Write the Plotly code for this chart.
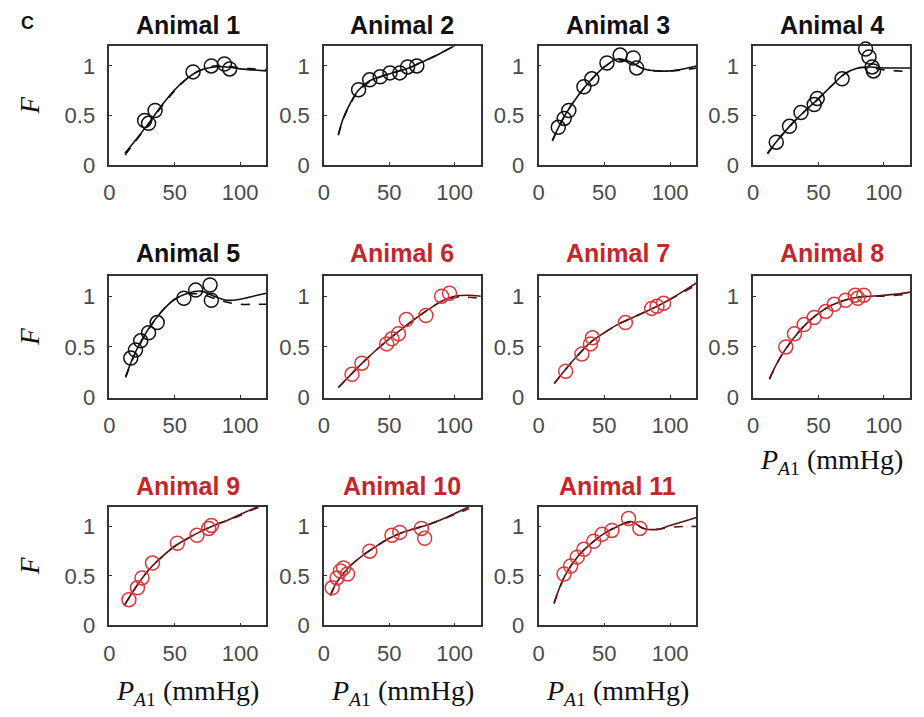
import plotly.graph_objects as go

W, H = 924, 717

animal_names = ["Animal 1", "Animal 2", "Animal 3", "Animal 4", "Animal 5", "Animal 6",
                "Animal 7", "Animal 8", "Animal 9", "Animal 10", "Animal 11"]
group = ["k", "k", "k", "k", "k", "r", "r", "r", "r", "r", "r"]

# measured points (P_A1, F)
pts_x = [
    [27, 30, 35, 64, 78, 88, 92],
    [26.5, 35, 43, 50.5, 58, 64, 71],
    [15, 19.5, 23, 34.5, 40.5, 52, 62, 72, 74.5],
    [17.7, 27.8, 36.6, 46.7, 49, 68, 86, 88.6, 91, 92],
    [16.4, 20, 24, 30, 36.6, 57, 66, 77, 78],
    [21.5, 29, 48, 52, 57, 63, 78, 90, 96],
    [20.6, 33, 39.5, 41, 66, 86, 90, 95],
    [25, 31.6, 39, 46.7, 55.5, 62, 70.7, 78, 84.6, 80],
    [15, 21.5, 25, 33, 52, 67, 76, 78],
    [6.3, 10, 12.6, 15, 18, 35, 52, 58, 74.5, 77],
    [19.4, 24.4, 29.4, 34.5, 42, 48.3, 55.8, 68.4, 77],
]
pts_y = [
    [0.45, 0.42, 0.55, 0.94, 1.0, 1.02, 0.97],
    [0.76, 0.86, 0.89, 0.93, 0.93, 0.99, 1.0],
    [0.38, 0.47, 0.55, 0.79, 0.87, 1.03, 1.11, 1.08, 0.98],
    [0.23, 0.39, 0.53, 0.61, 0.67, 0.87, 1.17, 1.09, 0.99, 0.95],
    [0.39, 0.47, 0.56, 0.64, 0.74, 0.98, 1.06, 1.11, 0.96],
    [0.23, 0.34, 0.53, 0.58, 0.63, 0.77, 0.81, 1.0, 1.03],
    [0.26, 0.43, 0.53, 0.59, 0.74, 0.88, 0.9, 0.93],
    [0.5, 0.63, 0.72, 0.79, 0.85, 0.92, 0.96, 1.01, 1.01, 0.98],
    [0.26, 0.38, 0.48, 0.63, 0.83, 0.91, 0.98, 1.01],
    [0.38, 0.48, 0.55, 0.58, 0.52, 0.75, 0.91, 0.94, 0.98, 0.88],
    [0.52, 0.6, 0.69, 0.77, 0.85, 0.92, 0.96, 1.08, 0.98],
]

# fitted curves (solid)
fit_x = [
    [12, 20, 30, 40, 50, 60, 70, 80, 90, 100, 110, 120],
    [11, 15, 20, 26, 35, 45, 55, 65, 75, 85, 95, 105],
    [10.5, 20, 30, 40, 50, 60, 70, 80, 90, 100, 110, 120],
    [11, 20, 30, 40, 50, 60, 70, 80, 90, 100, 110, 120],
    [12.5, 20, 30, 40, 50, 60, 70, 80, 90, 100, 110, 120],
    [11, 20, 30, 40, 50, 60, 70, 80, 90, 100, 110, 120],
    [12, 20, 30, 40, 50, 60, 70, 80, 90, 100, 110, 120],
    [12.5, 20, 30, 40, 50, 60, 70, 80, 90, 100, 110, 120],
    [11.4, 20, 30, 40, 50, 60, 70, 80, 90, 100, 110, 120],
    [5, 10, 20, 30, 40, 50, 60, 70, 80, 90, 100, 111],
    [11.8, 20, 30, 40, 50, 60, 70, 80, 90, 100, 110, 120],
]
fit_y = [
    [0.12, 0.25, 0.42, 0.6, 0.76, 0.88, 0.96, 0.99, 0.99, 0.97, 0.96, 0.95],
    [0.31, 0.48, 0.62, 0.75, 0.85, 0.9, 0.94, 0.98, 1.04, 1.1, 1.17, 1.24],
    [0.25, 0.5, 0.7, 0.86, 0.99, 1.07, 1.04, 0.97, 0.95, 0.95, 0.97, 1.0],
    [0.12, 0.27, 0.42, 0.55, 0.67, 0.8, 0.92, 0.98, 0.99, 0.98, 0.98, 0.98],
    [0.21, 0.45, 0.68, 0.85, 0.97, 1.03, 1.05, 1.0, 0.96, 0.97, 1.0, 1.03],
    [0.1, 0.22, 0.35, 0.47, 0.58, 0.68, 0.78, 0.87, 0.95, 1.0, 1.01, 1.0],
    [0.14, 0.27, 0.42, 0.55, 0.64, 0.72, 0.78, 0.84, 0.9, 0.97, 1.05, 1.13],
    [0.19, 0.38, 0.57, 0.72, 0.83, 0.91, 0.96, 0.99, 1.0, 1.01, 1.02, 1.04],
    [0.2, 0.38, 0.56, 0.69, 0.8, 0.88, 0.95, 1.01, 1.06, 1.12, 1.18, 1.24],
    [0.31, 0.44, 0.6, 0.71, 0.8, 0.88, 0.94, 0.98, 1.02, 1.07, 1.13, 1.2],
    [0.23, 0.5, 0.7, 0.83, 0.93, 1.0, 1.05, 0.98, 0.97, 1.01, 1.05, 1.09],
]
# second (dashed) model curves
dash_y = [
    [0.1, 0.24, 0.41, 0.59, 0.75, 0.88, 0.96, 1.0, 1.0, 0.98, 0.97, 0.96],
    [0.3, 0.47, 0.61, 0.74, 0.84, 0.9, 0.94, 0.98, 1.04, 1.1, 1.17, 1.24],
    [0.24, 0.5, 0.7, 0.86, 0.99, 1.06, 1.03, 0.97, 0.95, 0.95, 0.96, 0.98],
    [0.11, 0.27, 0.42, 0.55, 0.67, 0.8, 0.92, 0.98, 0.98, 0.96, 0.95, 0.94],
    [0.2, 0.44, 0.67, 0.85, 0.97, 1.02, 1.02, 0.98, 0.94, 0.92, 0.92, 0.92],
    [0.1, 0.22, 0.35, 0.47, 0.58, 0.68, 0.78, 0.87, 0.95, 0.99, 0.99, 0.98],
    [0.14, 0.27, 0.42, 0.55, 0.64, 0.72, 0.78, 0.84, 0.9, 0.97, 1.04, 1.11],
    [0.18, 0.38, 0.57, 0.72, 0.83, 0.91, 0.96, 0.99, 1.0, 1.0, 1.01, 1.02],
    [0.2, 0.38, 0.56, 0.69, 0.8, 0.88, 0.95, 1.01, 1.06, 1.11, 1.17, 1.22],
    [0.3, 0.44, 0.6, 0.71, 0.8, 0.88, 0.94, 0.98, 1.02, 1.07, 1.12, 1.18],
    [0.22, 0.5, 0.7, 0.83, 0.93, 1.0, 1.04, 0.98, 0.97, 0.99, 1.0, 1.0],
]

x_ticks = [0, 50, 100]
y_ticks = [0, 0.5, 1]
x_label = "<i>P</i><sub><i>A</i>1</sub> (mmHg)"
y_label = "<i>F</i>"

# layout geometry (pixels)
col_px = [(104, 262), (320, 478), (536, 695), (752, 910)]
row_px = [(47, 168), (281, 405), (516, 637)]
title_y_px = [25, 258, 495]

BLACK = "#111111"
RED_T = "#c4262b"
RED_M = "#d8393d"
RED_L = "#5c1414"

fig = go.Figure()
annotations = []

for i in range(11):
    r, c = divmod(i, 4)
    ax = "" if i == 0 else str(i + 1)
    xa, ya = "x" + ax, "y" + ax
    red = group[i] == "r"
    mcol = RED_M if red else BLACK
    lcol = RED_L if red else BLACK
    tcol = RED_T if red else BLACK

    fig.add_trace(go.Scatter(x=fit_x[i], y=dash_y[i], mode="lines", xaxis=xa, yaxis=ya,
                             line=dict(color=lcol, width=1.6, dash="dash", shape="spline"),
                             showlegend=False, hoverinfo="skip"))
    fig.add_trace(go.Scatter(x=fit_x[i], y=fit_y[i], mode="lines", xaxis=xa, yaxis=ya,
                             line=dict(color=lcol, width=1.6, shape="spline"),
                             showlegend=False, hoverinfo="skip"))
    fig.add_trace(go.Scatter(x=pts_x[i], y=pts_y[i], mode="markers", xaxis=xa, yaxis=ya,
                             marker=dict(symbol="circle-open", size=14, color=mcol,
                                         line=dict(width=1.5, color=mcol)),
                             cliponaxis=False, showlegend=False))

    x0, x1 = col_px[c]
    y0, y1 = row_px[r]
    axis_common = dict(showline=True, mirror=True, linecolor="#333333", linewidth=1.5,
                       showgrid=False, zeroline=False, ticks="inside", ticklen=3,
                       tickcolor="#333333",
                       tickfont=dict(family="Liberation Sans, Arial, sans-serif",
                                     size=22, color="#4a4a4a"))
    fig.update_layout(**{
        ("xaxis" + ax): dict(domain=[x0 / W, x1 / W], range=[0, 120], tickvals=x_ticks,
                             anchor=ya, ticklabelstandoff=7, **axis_common),
        ("yaxis" + ax): dict(domain=[1 - y1 / H, 1 - y0 / H], range=[0, 1.2],
                             tickvals=y_ticks, ticktext=["0", "0.5", "1"], anchor=xa,
                             ticklabelstandoff=8, **axis_common),
    })

    annotations.append(dict(text=f"<b>{animal_names[i]}</b>", xref="paper", yref="paper",
                            x=(x0 + x1) / 2 / W, y=1 - title_y_px[r] / H,
                            xanchor="center", yanchor="middle", showarrow=False,
                            font=dict(family="Liberation Sans, Arial, sans-serif",
                                      size=25, color=tcol)))

# y labels (first column of each row)
for r in range(3):
    y0, y1 = row_px[r]
    annotations.append(dict(text=y_label, xref="paper", yref="paper",
                            x=24 / W, y=1 - (y0 + y1) / 2 / H, textangle=-90,
                            xanchor="center", yanchor="middle", showarrow=False,
                            font=dict(family="Liberation Serif, DejaVu Serif, serif",
                                      size=27, color=BLACK)))

# x labels: bottom row and the panel above the empty slot
xlab_pos = [(col_px[0], 705), (col_px[1], 705), (col_px[2], 705), (col_px[3], 470)]
for (x0, x1), ypx in xlab_pos:
    annotations.append(dict(text=x_label, xref="paper", yref="paper",
                            x=(x0 + x1) / 2 / W, y=1 - ypx / H,
                            xanchor="center", yanchor="middle", showarrow=False,
                            font=dict(family="Liberation Serif, DejaVu Serif, serif",
                                      size=28, color=BLACK)))

annotations.append(dict(text="<b>C</b>", xref="paper", yref="paper", x=13 / W, y=1 - 23 / H,
                        xanchor="left", yanchor="middle", showarrow=False,
                        font=dict(family="Liberation Sans, Arial, sans-serif", size=18,
                                  color=BLACK)))

fig.update_layout(width=W, height=H, margin=dict(l=0, r=0, t=0, b=0),
                  paper_bgcolor="white", plot_bgcolor="white",
                  annotations=annotations, showlegend=False)

fig.write_html("out.html")
